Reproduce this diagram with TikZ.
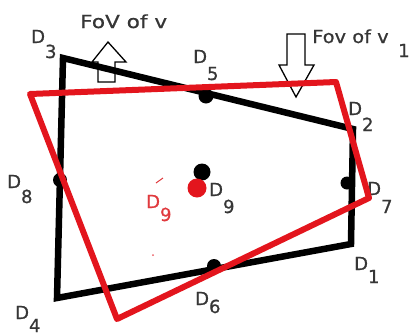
\documentclass[tikz,border=0pt]{standalone}
\usepackage{fontspec}
\setmainfont{DejaVu Sans}
\newfontfamily\labfont{DejaVu Sans}[FakeBold=0.8]
\definecolor{txt}{HTML}{363636}
\definecolor{rd}{HTML}{E3151D}
\definecolor{rdtxt}{HTML}{E03A3E}
\newcommand\Dlab[2]{D\raisebox{-#2pt}{#1}}
\begin{document}
\begin{tikzpicture}[x=1pt,y=-1pt,
  lab/.style={anchor=base west, inner sep=0pt, text=txt, font=\labfont\fontsize{18}{20}\selectfont},
  blk/.style={draw=black, line width=6.5pt, line join=miter},
  red/.style={draw=rd, line width=6pt, line join=round},
  bdot/.style={fill=black},
  fovarrow/.style={draw=black, line width=1.3pt, fill=white, line join=miter}]
\useasboundingbox (0,0) rectangle (412,335);
% field-of-view arrows
\draw[fovarrow] (98,82) -- (98,62) -- (92,62) -- (108,42) -- (126,62) -- (115,62) -- (115,82) -- cycle;
\draw[fovarrow] (287,34) -- (305,34) -- (305,65) -- (314,65) -- (296,97) -- (279,65) -- (287,65) -- cycle;
\node[lab] (fov) at (80,28) {\scalebox{1.2}[1]{FoV of v}};
\node[lab] (fov1) at (312,43) {\scalebox{1.08}[1]{Fov of v}};
\node[lab] (fov1s) at (398,57) {1};
% labels
\node[lab] (l3) at (31,43) {\Dlab{3}{15}};
\node[lab] (l5) at (193,63) {\Dlab{5}{17}};
\node[lab] (l2) at (348,115) {\Dlab{2}{16}};
\node[lab] (l8) at (7,188) {\Dlab{8}{15}};
\node[lab, text=rdtxt] (l9r) at (146,208) {\Dlab{9}{13}};
\node[lab] (l9) at (209,196) {\Dlab{9}{17}};
\node[lab] (l7) at (367,195) {\Dlab{7}{18}};
\node[lab] (l1) at (354,270) {\Dlab{1}{13}};
\node[lab] (l6) at (195,305) {\Dlab{6}{8}};
\node[lab] (l4) at (15,319) {\Dlab{4}{13}};
\coordinate (tk1) at (156,183);
\coordinate (tk2) at (163,178);
\draw[rdtxt, line width=1pt] (tk1) -- (tk2);
% black quadrilateral
\coordinate (D3) at (63,58);
\coordinate (D2) at (353,129);
\coordinate (D1) at (351,244);
\coordinate (D4) at (57,298);
\draw[blk] (D3) -- (D2) -- (D1) -- (D4) -- cycle;
\fill[bdot] (206,96) circle (7.5);
\fill[bdot] (60,180) circle (7);
\fill[bdot] (347,183) circle (6.5);
\fill[bdot] (214,266) circle (7);
\fill[bdot] (202,172) circle (8.5);
% red quadrilateral
\coordinate (R1) at (30,94);
\coordinate (R2) at (336,82);
\coordinate (R3) at (369,198);
\coordinate (R4) at (117,319);
\draw[red] (R1) -- (R2) -- (R3) -- (R4) -- cycle;
\fill[rd] (197,188) circle (9.5);
\fill[rd!70] (153,255) circle (1);
\end{tikzpicture}
\end{document}
